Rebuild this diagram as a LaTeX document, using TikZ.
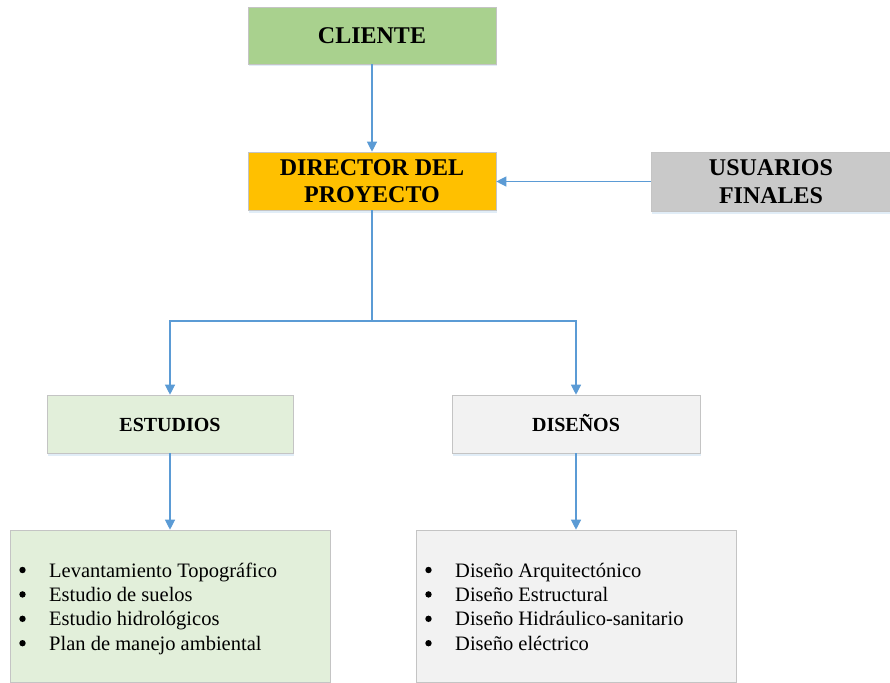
\documentclass[tikz,border=0pt]{standalone}
\usepackage{fontspec}
\setmainfont{Liberation Serif}
\usetikzlibrary{arrows.meta,shadows}

\definecolor{conncol}{HTML}{5B9BD5}
\definecolor{edgecol}{HTML}{C4C4C4}
\definecolor{clientefill}{HTML}{A9D18E}
\definecolor{directorfill}{HTML}{FFC000}
\definecolor{usuariosfill}{HTML}{C9C9C9}
\definecolor{estudiosfill}{HTML}{E2EFDA}
\definecolor{disenosfill}{HTML}{F2F2F2}
\definecolor{shadowcol}{HTML}{BDD7EE}

\tikzset{
  box/.style={draw=edgecol, line width=0.6pt, inner sep=0pt, align=center,
    drop shadow={shadow xshift=1pt, shadow yshift=-2.5pt, fill=shadowcol, opacity=0.45}},
  bigtitle/.style={font=\fontsize{24}{27.6}\selectfont\bfseries},
  midtitle/.style={font=\fontsize{20}{23}\selectfont\bfseries,
    text height=14pt, text depth=0pt},
  conn/.style={draw=conncol, line width=1.2pt,
    -{Triangle[width=10pt,length=10pt]}},
  plainconn/.style={draw=conncol, line width=1.2pt},
  item/.style={anchor=base west, inner sep=0pt,
    font=\fontsize{20.5}{24}\selectfont}
}

\begin{document}
\begin{tikzpicture}[x=1pt,y=-1pt]
\useasboundingbox (0,0) rectangle (890,682);

% upper level
\node[box, bigtitle, fill=clientefill, minimum width=248pt, minimum height=57pt]
  (cliente) at (372,35.5) {CLIENTE};
\node[box, bigtitle, fill=directorfill, minimum width=248pt, minimum height=58pt]
  (director) at (372,181) {DIRECTOR DEL\\PROYECTO};
\node[box, bigtitle, fill=usuariosfill, minimum width=240pt, minimum height=59pt]
  (usuarios) at (771,181.5) {USUARIOS\\FINALES};

% second level
\node[box, midtitle, fill=estudiosfill, minimum width=246pt, minimum height=58pt]
  (estudios) at (170,424) {ESTUDIOS};
\node[box, midtitle, fill=disenosfill, minimum width=248pt, minimum height=58pt]
  (disenos) at (576,424) {DISEÑOS};

% detail boxes
\node[box, fill=estudiosfill, minimum width=320pt, minimum height=152pt]
  (estlist) at (170,606) {};
\node[box, fill=disenosfill, minimum width=320pt, minimum height=152pt]
  (dislist) at (576,606) {};

% bulleted items
\foreach \t [count=\i] in {Levantamiento Topográfico, Estudio de suelos,
    Estudio hidrológicos, Plan de manejo ambiental}{
  \fill ({22.5},{577+24.4*(\i-1)-7}) circle (3.2pt);
  \node[item] (est\i) at (49,{577+24.4*(\i-1)}) {\t};
}
\foreach \t [count=\i] in {Diseño Arquitectónico, Diseño Estructural,
    Diseño Hidráulico-sanitario, Diseño eléctrico}{
  \fill ({428.5},{577+24.4*(\i-1)-7}) circle (3.2pt);
  \node[item] (dis\i) at (455,{577+24.4*(\i-1)}) {\t};
}

% connectors
\coordinate (split) at (372,321);
\draw[conn] (cliente.south) -- (director.north);
\draw[conn] (usuarios.west) -- (usuarios.west -| director.east);
\draw[plainconn] (director.south) -- (split);
\draw[conn] (split) -| (estudios.north);
\draw[conn] (split) -| (disenos.north);
\draw[conn] (estudios.south) -- (estlist.north);
\draw[conn] (disenos.south) -- (dislist.north);
\end{tikzpicture}
\end{document}
